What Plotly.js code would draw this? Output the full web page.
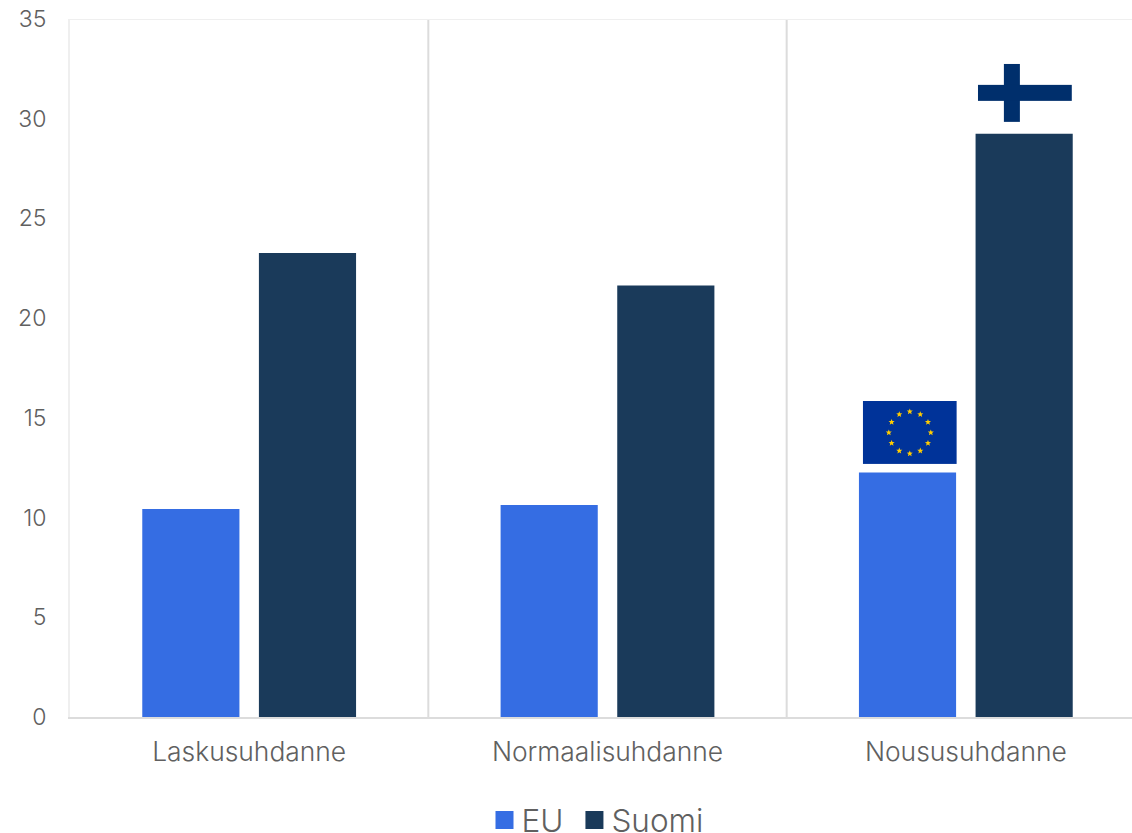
<!DOCTYPE html>
<html>
<head>
<meta charset="utf-8">
<script src="https://cdn.plot.ly/plotly-3.0.1.min.js"></script>
<style>
html,body{margin:0;padding:0;background:#fff;overflow:hidden;width:1132px;height:833px}
#chart{width:1160px;height:860px}
/* selitteen neliöt hieman oletusta suuremmiksi ja lähemmäs tekstiä */
.legendpoints path{transform:translate(26px,0) scale(1.5)}
</style>
</head>
<body>
<div id="chart"></div>
<script>
// Suhdannevaiheet ja sarjojen arvot
const categories = ['Laskusuhdanne', 'Normaalisuhdanne', 'Noususuhdanne'];
const euValues = [10.43, 10.63, 12.26];
const suomiValues = [23.27, 21.64, 29.24];
const yTicks = [0, 5, 10, 15, 20, 25, 30, 35];

const textGray = '#606060';
const fontFamily = 'Inter, Lato, sans-serif';
const euBlue = '#356de3';
const suomiNavy = '#1a3a5a';
const rule = '#dcdcdc';
const faintRule = '#efefef';

// Lippukuvakkeet SVG-muodossa
function euFlag() {
  let stars = '';
  for (let i = 0; i < 12; i++) {
    const a = i * Math.PI / 6;
    const cx = 47 + 21 * Math.sin(a), cy = 31.7 - 21 * Math.cos(a);
    const pts = [];
    for (let k = 0; k < 10; k++) {
      const r = k % 2 ? 1.4 : 3.2, t = k * Math.PI / 5;
      pts.push((cx + r * Math.sin(t)).toFixed(2) + ',' + (cy - r * Math.cos(t)).toFixed(2));
    }
    stars += '<polygon fill="#ffcc00" points="' + pts.join(' ') + '"/>';
  }
  return '<svg xmlns="http://www.w3.org/2000/svg" width="94" height="63" viewBox="0 0 94 63"><rect width="94" height="63" fill="#003399"/>' + stars + '</svg>';
}
function fiFlag() {
  return '<svg xmlns="http://www.w3.org/2000/svg" width="94" height="58" viewBox="0 0 94 58"><rect width="94" height="58" fill="#ffffff"/><rect x="26" width="16" height="58" fill="#002f6c"/><rect y="21" width="94" height="16" fill="#002f6c"/></svg>';
}
const svgUri = s => 'data:image/svg+xml;base64,' + btoa(s);

const traces = [
  {type: 'bar', name: 'EU', x: categories, y: euValues, marker: {color: euBlue}},
  {type: 'bar', name: 'Suomi', x: categories, y: suomiValues, marker: {color: suomiNavy}}
];

const lightFont = (size) => ({family: fontFamily, size, color: textGray, weight: 300});

const layout = {
  width: 1160, height: 860,
  margin: {l: 70, r: 15, t: 19, b: 143, autoexpand: false},
  paper_bgcolor: '#fff', plot_bgcolor: '#fff',
  barmode: 'group', bargap: 0.349, bargroupgap: 0.167,
  font: lightFont(24),
  showlegend: true,
  legend: {
    orientation: 'h', x: 0.38, xanchor: 'left', y: -0.109, yanchor: 'top',
    font: lightFont(31.5), itemclick: false, itemdoubleclick: false,
    traceorder: 'normal', itemwidth: 33
  },
  xaxis: {
    type: 'category', range: [-0.5, 2.5], showgrid: false, zeroline: false,
    showline: true, linecolor: rule, linewidth: 2, ticks: '',
    tickfont: lightFont(26.4), ticklabelstandoff: 10
  },
  yaxis: {
    range: [0, 35], tickvals: yTicks, ticktext: yTicks.map(String), showgrid: false, zeroline: false,
    showline: true, linecolor: faintRule, linewidth: 2, ticks: 'outside', ticklen: 17,
    tickcolor: 'rgba(0,0,0,0)', tickfont: lightFont(23)
  },
  shapes: [
    {type: 'line', xref: 'x', yref: 'paper', x0: 0.5, x1: 0.5, y0: 0, y1: 1, line: {color: rule, width: 2}},
    {type: 'line', xref: 'x', yref: 'paper', x0: 1.5, x1: 1.5, y0: 0, y1: 1, line: {color: rule, width: 2}},
    {type: 'line', xref: 'paper', yref: 'y', x0: 0, x1: 1, y0: 35, y1: 35, line: {color: faintRule, width: 2}}
  ],
  images: [
    {source: svgUri(euFlag()), xref: 'x', yref: 'y', x: 1.8436, y: 15.85,
     sizex: 94 / 358.33, sizey: 63 / 19.94, xanchor: 'center', yanchor: 'top', sizing: 'stretch', layer: 'above'},
    {source: svgUri(fiFlag()), xref: 'x', yref: 'y', x: 2.1648, y: 32.75,
     sizex: 94 / 358.33, sizey: 58 / 19.94, xanchor: 'center', yanchor: 'top', sizing: 'stretch', layer: 'above'}
  ]
};

Plotly.newPlot('chart', traces, layout, {displayModeBar: false, staticPlot: true});
</script>
</body>
</html>
